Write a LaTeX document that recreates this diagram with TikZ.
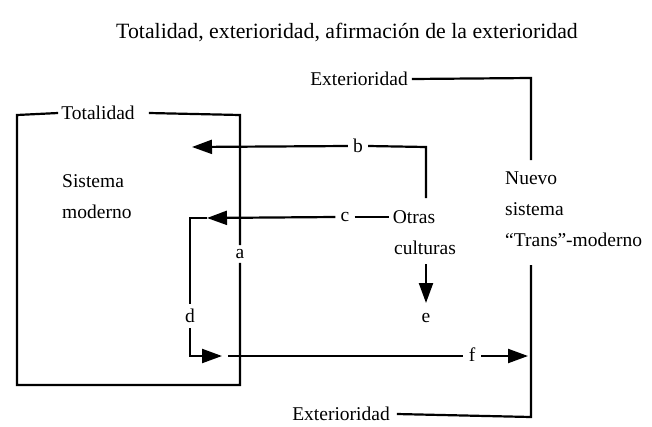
\documentclass[tikz,border=0pt]{standalone}
\usepackage{fontspec}
\setmainfont{Liberation Serif}
\usetikzlibrary{arrows.meta}
\begin{document}
\begin{tikzpicture}[x=1pt,y=-1pt,
  lbl/.style={inner sep=0pt,font=\fontsize{19.5}{31}\selectfont},
  ln/.style={line width=2.2pt},
  arr/.style={line width=2.2pt,-{Triangle[length=20pt,width=14pt]}}]
\useasboundingbox (0,0) rectangle (652,426);
\node[inner sep=0pt,font=\fontsize{21.8}{25}\selectfont] (title) at (347,32) {Totalidad, exterioridad, afirmación de la exterioridad};
% labels
\node[lbl] (tot) at (98,113) {Totalidad};
\node[lbl,align=left,anchor=north west] (sis) at (62,174) {Sistema\\moderno};
\node[lbl] (extT) at (359,79) {Exterioridad};
\node[lbl] (extB) at (341,414) {Exterioridad};
\node[lbl,align=left,anchor=north west] (nuevo) at (505,172) {Nuevo\\sistema\\``Trans''-moderno};
\node[lbl] (otras) at (414,217) {Otras};
\node[lbl] (cult) at (425,248) {culturas};
\node[lbl,inner sep=4pt] (a) at (240,254) {a};
\node[lbl,inner sep=5pt] (b) at (358,146) {b};
\node[lbl,inner sep=5pt] (c) at (345,217) {c};
\node[lbl,inner sep=5pt] (d) at (190,316) {d};
\node[lbl] (e) at (426,318) {e};
\node[lbl,inner sep=6pt,anchor=base] (f) at (472,361) {f};
% coordinates
\coordinate (bt) at (192,147);
\coordinate (ct) at (207,218);
\coordinate (ft) at (222,356);
\coordinate (fs) at (228,356);
\coordinate (gt) at (528,356);
% box (Totalidad)
\draw[ln] ([xshift=-3pt]tot.west) -- (17,115) -- (17,385) -- (240,385) -- (a.south);
\draw[ln] ([xshift=14pt]tot.east) -- (240,115) -- (a.north);
% b
\draw[arr] (b.west) -- (bt);
\draw[ln] (b.east) -- (426,147) -- (426,198);
% c
\draw[arr] (c.west) -- (ct);
\draw[ln] (c.east) -- ([xshift=-4pt]otras.west |- c.east);
% d
\draw[ln] (ct) -- (190,218) -- (d.north);
\draw[arr] (d.south) -- (190,356) -- (ft);
% f
\draw[ln] (f.west |- fs) -- (fs);
\draw[arr] (f.east |- gt) -- (gt);
% e
\draw[arr] (426,264) -- (426,303);
% exterioridad
\draw[ln] ([xshift=4pt]extT.east) -- (531,78) -- (531,160);
\draw[ln] ([xshift=7pt]extB.east) -- (531,417) -- (531,265);
\end{tikzpicture}
\end{document}
